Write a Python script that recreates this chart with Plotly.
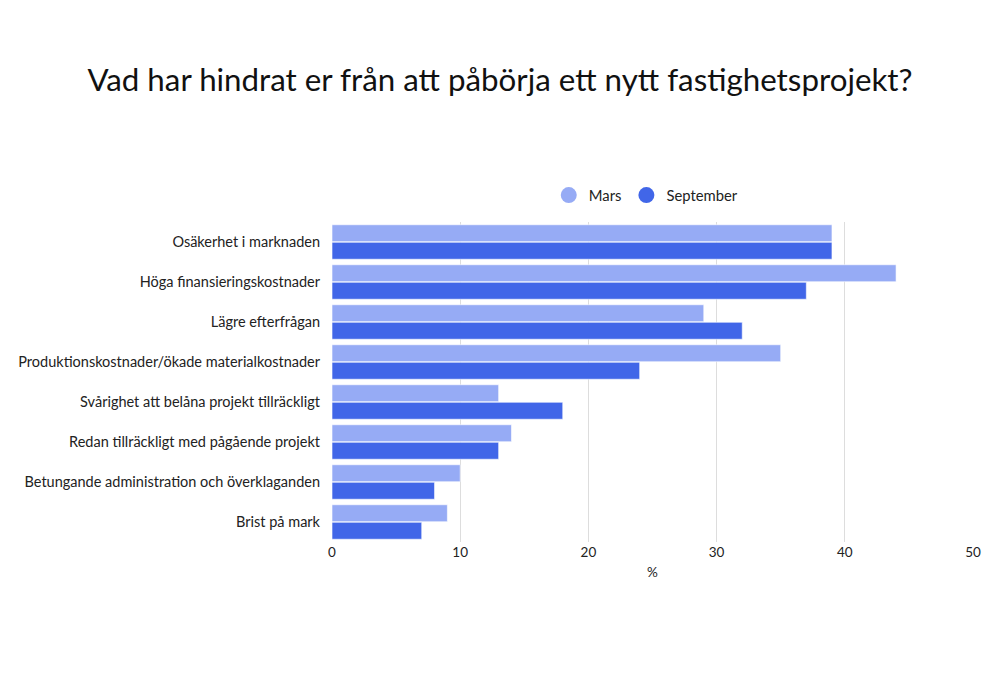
import plotly.graph_objects as go

categories = [
    "Osäkerhet i marknaden",
    "Höga finansieringskostnader",
    "Lägre efterfrågan",
    "Produktionskostnader/ökade materialkostnader",
    "Svårighet att belåna projekt tillräckligt",
    "Redan tillräckligt med pågående projekt",
    "Betungande administration och överklaganden",
    "Brist på mark",
]
mars = [39, 44, 29, 35, 13, 14, 10, 9]
september = [39, 37, 32, 24, 18, 13, 8, 7]
series_names = ["Mars", "September"]
colors = ["#96ABF5", "#4166E8"]
x_ticks = [0, 10, 20, 30, 40, 50]

FONT = "Lato, 'Noto Sans', sans-serif"

fig = go.Figure()
for name, vals, col in zip(series_names, [mars, september], colors):
    fig.add_trace(go.Bar(
        y=categories, x=vals, name=name, orientation="h",
        marker=dict(color=col, line=dict(color="rgba(255,255,255,0.6)", width=1)),
        showlegend=False,
    ))
# legend entries with circular markers
for name, col in zip(series_names, colors):
    fig.add_trace(go.Scatter(
        x=[None], y=[None], mode="markers", name=name,
        marker=dict(color=col, size=16, symbol="circle"),
        showlegend=True,
    ))

fig.update_layout(
    width=1000, height=700,
    paper_bgcolor="white", plot_bgcolor="white",
    font=dict(family=FONT, size=14.5, color="#222"),
    title=dict(
        text="Vad har hindrat er från att påbörja ett nytt fastighetsprojekt?",
        x=0.492, xanchor="center", y=0.897, yanchor="middle",
        font=dict(family=FONT, size=31.3, color="#111"),
    ),
    barmode="group", bargap=0.125, bargroupgap=0.03,
    margin=dict(l=324, r=35, t=214, b=166, autoexpand=False),
    legend=dict(
        orientation="h", x=0.4895, xanchor="center", y=1.083, yanchor="middle",
        font=dict(size=14.8, color="#222"), itemsizing="trace",
        traceorder="normal",
    ),
    xaxis=dict(
        range=[0, 50], tickvals=x_ticks, showgrid=True, gridcolor="#dddddd",
        zeroline=False, showline=False, ticks="", automargin=False,
        tickfont=dict(size=13.5, color="#222"),
        title=dict(text="%", font=dict(size=13.5, color="#222"), standoff=9),
    ),
    yaxis=dict(
        autorange="reversed", showgrid=False, zeroline=False, showline=False,
        ticks="", ticklabelstandoff=11, automargin=False,
        tickfont=dict(size=14.5, color="#222"),
    ),
)

fig.write_html("out.html")
